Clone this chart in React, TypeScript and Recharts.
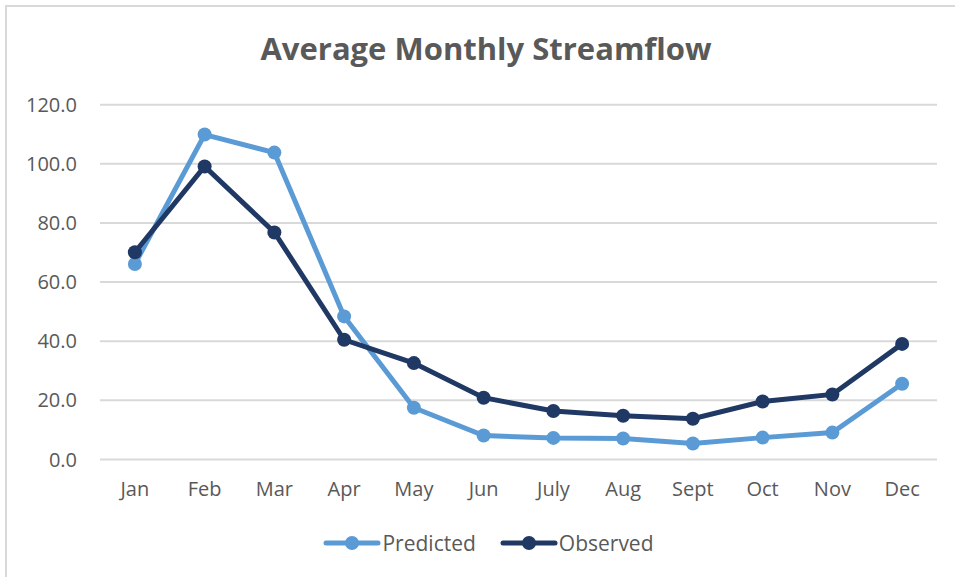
import { LineChart, Line, XAxis, YAxis, CartesianGrid, Legend } from "recharts";

const months = ["Jan", "Feb", "Mar", "Apr", "May", "Jun", "July", "Aug", "Sept", "Oct", "Nov", "Dec"];
const predicted = [66.1, 109.9, 103.8, 48.4, 17.5, 8.1, 7.3, 7.1, 5.4, 7.4, 9.1, 25.6];
const observed = [70.1, 99.1, 76.8, 40.5, 32.6, 20.9, 16.4, 14.8, 13.8, 19.6, 22.0, 39.1];
const yTicks = [0, 20, 40, 60, 80, 100, 120];

const font = "'Open Sans', sans-serif";
const textColor = "#595959";
const lightBlue = "#5B9BD5";
const navy = "#203864";

const data = months.map((m, i) => ({ month: m, predicted: predicted[i], observed: observed[i] }));

function StreamLegend() {
  const items = [
    { label: "Predicted", color: lightBlue },
    { label: "Observed", color: navy },
  ];
  return (
    <div style={{ display: "flex", justifyContent: "center", gap: 24, paddingLeft: 22, fontFamily: font, fontSize: 21, color: textColor }}>
      {items.map((it) => (
        <div key={it.label} style={{ display: "flex", alignItems: "center" }}>
          <svg width={58} height={16}>
            <line x1={3} x2={55} y1={8} y2={8} stroke={it.color} strokeWidth={5} strokeLinecap="round" />
            <circle cx={29} cy={8} r={7} fill={it.color} />
          </svg>
          <span style={{ marginLeft: 1 }}>{it.label}</span>
        </div>
      ))}
    </div>
  );
}

export default function App() {
  return (
    <div style={{ position: "absolute", left: 0, top: 0, width: 955, height: 577, background: "#fff", overflow: "hidden" }}>
      <div style={{ position: "absolute", left: 5, top: 5, right: -10, bottom: -10, borderTop: "2px solid #d9d9d9", borderLeft: "2px solid #d9d9d9" }} />
      <div
        style={{
          position: "absolute",
          left: 0,
          width: 972,
          top: 33,
          textAlign: "center",
          fontFamily: font,
          fontWeight: 700,
          fontSize: 31,
          lineHeight: 1,
          color: textColor,
        }}
      >
        Average Monthly Streamflow
      </div>
      <LineChart width={955} height={577} data={data} margin={{ top: 104.7, right: 18, bottom: 18, left: 20 }}>
        <CartesianGrid vertical={false} stroke="#d9d9d9" strokeWidth={2} />
        <XAxis
          dataKey="month"
          scale="band"
          axisLine={false}
          tickLine={false}
          tickSize={0}
          tickMargin={22}
          height={69.5}
          interval={0}
          tick={{ fill: textColor, fontSize: 20, fontFamily: font }}
        />
        <YAxis
          domain={[0, 120]}
          ticks={yTicks}
          interval={0}
          axisLine={false}
          tickLine={false}
          tickSize={0}
          tickMargin={23}
          width={80}
          tickFormatter={(v: number) => v.toFixed(1)}
          tick={{ fill: textColor, fontSize: 20, fontFamily: font }}
        />
        <Legend verticalAlign="bottom" height={30} wrapperStyle={{ left: 0, width: 955 }} content={() => <StreamLegend />} />
        <Line
          type="linear"
          dataKey="predicted"
          name="Predicted"
          stroke={lightBlue}
          strokeWidth={5}
          dot={{ r: 7, fill: lightBlue, stroke: lightBlue, strokeWidth: 0 }}
          activeDot={false}
          isAnimationActive={false}
        />
        <Line
          type="linear"
          dataKey="observed"
          name="Observed"
          stroke={navy}
          strokeWidth={5}
          dot={{ r: 7, fill: navy, stroke: navy, strokeWidth: 0 }}
          activeDot={false}
          isAnimationActive={false}
        />
      </LineChart>
    </div>
  );
}
